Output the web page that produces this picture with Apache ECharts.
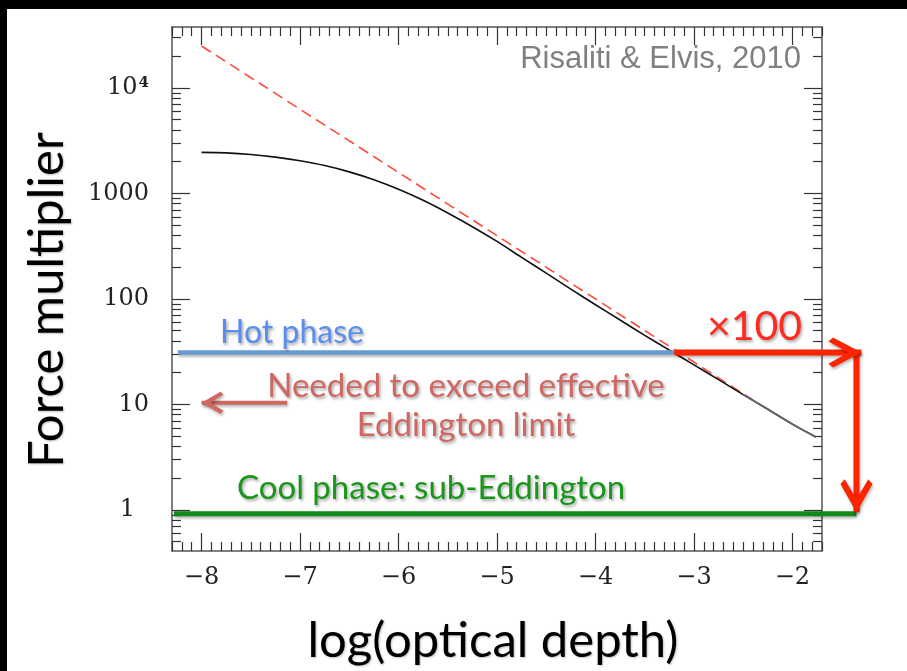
<!DOCTYPE html>
<html><head><meta charset="utf-8">
<script src="https://cdn.jsdelivr.net/npm/echarts@6/dist/echarts.min.js"></script>
<style>html,body{margin:0;padding:0;background:#fff}#c{width:907px;height:671px}</style>
</head><body><div id="c"></div>
<script>
// ---- data ----
const forceX = [-8,-7.75,-7.5,-7.25,-7,-6.75,-6.5,-6.25,-6,-5.75,-5.5,-5.25,-5,-4.75,-4.5,-4.25,-4,-3.75,-3.5,-3.25,-3,-2.75,-2.5,-2.25,-2,-1.76];
const forceM = [2455,2427,2344,2213,2042,1841,1603,1349,1096,861,653,484,351,248,176,124,88.1,63.1,45.2,32.7,23.7,17.2,12.4,9.0,6.5,4.9];
const tailStart = -2.5;               // part of the curve drawn in grey
const asymX = [-8, -2.4];
const asymM = [25000, 11];
const hotLevel = 31;
const hotX = [-8.24, -3.2];
const coolLevel = 0.92;
const coolX = [-8.28, -1.35];
const boostX = [-3.2, -1.30];         // horizontal red arrow (x100)
const boostDownX = -1.35;             // vertical red arrow
const boostDownM = [31, 0.95];
const neededX = [-7.13, -8.0];
const neededLevel = 10.4;
const xMajor = [-8,-7,-6,-5,-4,-3,-2];
const yMajor = [1,10,100,1000,10000];
const xRange = [-8.3, -1.7];
const yRange = [0.408, 37860];
const xRangeWide = [-8.3, -1.0];      // same scale, extended for annotations outside the frame

// minor tick positions
const xMinor = [];
for (let i = -83; i <= -17; i++) if (i % 10 !== 0) xMinor.push(i / 10);
const yMinor = [];
for (let d = -1; d <= 4; d++) for (let k = 2; k <= 9; k++) {
  const v = k * Math.pow(10, d);
  if (v > yRange[0] && v < yRange[1]) yMinor.push(+v.toPrecision(3));
}

const W = 907, gridL = 172, gridR = 85;
const pxPerUnit = (W - gridL - gridR) / (xRange[1] - xRange[0]);
const wideRight = W - gridL - pxPerUnit * (xRangeWide[1] - xRangeWide[0]);

const chev = 'path://M50,0L50.2,0L50,0.2Z M50,100 L100,186 L87,200 L50,140 L13,200 L0,186 Z';
const serifFont = 'DejaVu Serif';
const tickStyle = {color:'#333', width:1.2};
const frameStyle = {color:'#555', width:1.5};

function xAx(pos, major, withLabel) {
  return {
    type:'value', min:xRange[0], max:xRange[1], position:pos, gridIndex:0,
    axisLine:{show:major, lineStyle:frameStyle, onZero:false},
    axisTick:{show:true, inside:true, length: major?18:9, customValues: major?xMajor:xMinor, lineStyle:tickStyle},
    axisLabel: withLabel ? {show:true, customValues:xMajor, margin:15, fontFamily:serifFont, fontSize:24, color:'#222',
      formatter: v => String(Math.round(v)).replace('-', '\u2212')} : {show:false},
    splitLine:{show:false}
  };
}
function yAx(pos, major, withLabel) {
  return {
    type:'log', min:yRange[0], max:yRange[1], position:pos, gridIndex:0,
    axisLine:{show:major, lineStyle:frameStyle, onZero:false},
    axisTick:{show:true, inside:true, length: major?18:9, customValues: major?yMajor:yMinor, lineStyle:tickStyle},
    axisLabel: withLabel ? {show:true, customValues:yMajor, margin:23, fontFamily:serifFont, fontSize:24, color:'#222',
      formatter: v => v > 9000 ? '{a|10}{s|4}' : (v < 2 ? '{a|1}{p|}' : '{a|' + Math.round(v) + '}'),
      rich:{
        a:{fontFamily:serifFont, fontSize:24, color:'#222'},
        s:{fontFamily:serifFont, fontSize:15, fontWeight:'bold', color:'#222', verticalAlign:'top', padding:[0,0,0,1]},
        p:{width:14}
      }} : {show:false},
    splitLine:{show:false}
  };
}

const forcePts = forceX.map((x,i)=>[x, forceM[i]]);
const tailPts = forcePts.filter(p => p[0] >= tailStart);
const shadow = {shadowColor:'rgba(0,0,0,0.3)', shadowBlur:3, shadowOffsetX:1, shadowOffsetY:2};
const txtShadow = {textShadowColor:'rgba(0,0,0,0.35)', textShadowBlur:3, textShadowOffsetX:1.5, textShadowOffsetY:2};
const sans = 'Lato';

const option = {
  animation:false,
  backgroundColor:'#fff',
  grid:[
    {left:gridL, right:gridR, top:27, bottom:120},
    {left:gridL, right:wideRight, top:27, bottom:120}
  ],
  xAxis:[xAx('bottom',true,true), xAx('top',true,false), xAx('bottom',false,false), xAx('top',false,false),
         {type:'value', gridIndex:1, min:xRangeWide[0], max:xRangeWide[1], show:false}],
  yAxis:[yAx('left',true,true), yAx('right',true,false), yAx('left',false,false), yAx('right',false,false),
         {type:'log', gridIndex:1, min:yRange[0], max:yRange[1], show:false}],
  series:[
    {type:'line', name:'asymptote', data:asymX.map((x,i)=>[x,asymM[i]]), showSymbol:false, symbol:'none', z:3,
     lineStyle:{color:'#ff4b3a', width:1.6, type:[11,6]}},
    {type:'line', name:'force', data:forcePts, showSymbol:false, symbol:'none', smooth:0.3, z:4,
     lineStyle:{color:'#111', width:1.6}},
    {type:'line', name:'forceTail', data:tailPts, showSymbol:false, symbol:'none', smooth:0.3, z:5,
     lineStyle:{color:'#666', width:1.8}},
    {type:'line', name:'hot', data:hotX.map(x=>[x,hotLevel]), symbol:'none', z:6,
     lineStyle:Object.assign({color:'#6b9ad0', width:4.5, cap:'butt'}, shadow)},
    {type:'line', name:'cool', xAxisIndex:4, yAxisIndex:4, data:coolX.map(x=>[x,coolLevel]), symbol:'none', z:6,
     lineStyle:Object.assign({color:'#13891a', width:5, cap:'butt'}, shadow)},
    {type:'line', name:'boost', xAxisIndex:4, yAxisIndex:4, z:8, symbol:'none', showSymbol:true,
     data:[[boostX[0],hotLevel], {value:[boostX[1],hotLevel], symbol:chev, symbolSize:[30,66], symbolRotate:-90}],
     itemStyle:Object.assign({color:'#ff2400', borderWidth:0}, shadow),
     lineStyle:Object.assign({color:'#ff2400', width:6, cap:'butt'}, shadow)},
    {type:'line', name:'boostDown', xAxisIndex:4, yAxisIndex:4, z:8, symbol:'none', showSymbol:true,
     data:[[boostDownX,boostDownM[0]], {value:[boostDownX,boostDownM[1]], symbol:chev, symbolSize:[32,66], symbolRotate:180}],
     itemStyle:Object.assign({color:'#ff2400', borderWidth:0}, shadow),
     lineStyle:Object.assign({color:'#ff2400', width:6, cap:'butt'}, shadow)},
    {type:'line', name:'needed', clip:false, z:8, symbol:'none', showSymbol:true,
     data:[[neededX[0],neededLevel], {value:[neededX[1],neededLevel], symbol:chev, symbolSize:[22,44], symbolRotate:90}],
     itemStyle:Object.assign({color:'#cf6762', borderWidth:0}, shadow),
     lineStyle:Object.assign({color:'#cf6762', width:4, cap:'butt'}, shadow)}
  ],
  graphic:[
    {type:'rect', shape:{x:0,y:0,width:907,height:9}, style:{fill:'#000'}, z:100},
    {type:'rect', shape:{x:0,y:0,width:7,height:671}, style:{fill:'#000'}, z:100},
    {type:'text', x:801, y:59, z:50, style:{text:'Risaliti & Elvis, 2010', font:'31px "Liberation Sans"', fill:'#808080', align:'right', verticalAlign:'middle'}},
    {type:'text', x:47, y:300, rotation:Math.PI/2, z:50, style:{text:'Force multiplier', font:'49px '+sans, fill:'#000', align:'center', verticalAlign:'middle', textShadowColor:'rgba(0,0,0,0.25)', textShadowBlur:2, textShadowOffsetX:1, textShadowOffsetY:1}},
    {type:'text', x:493, y:641, z:50, style:{text:'log(optical depth)', font:'49px '+sans, fill:'#000', align:'center', verticalAlign:'middle', textShadowColor:'rgba(0,0,0,0.25)', textShadowBlur:2, textShadowOffsetX:1, textShadowOffsetY:1}},
    {type:'text', x:220, y:333, z:50, style:Object.assign({text:'Hot phase', font:'32px '+sans, fill:'#5a8ff0', align:'left', verticalAlign:'middle'}, txtShadow)},
    {type:'text', x:466, y:386, z:50, style:Object.assign({text:'Needed to exceed effective', font:'33px '+sans, fill:'#cf6762', align:'center', verticalAlign:'middle'}, txtShadow)},
    {type:'text', x:466, y:425, z:50, style:Object.assign({text:'Eddington limit', font:'33px '+sans, fill:'#cf6762', align:'center', verticalAlign:'middle'}, txtShadow)},
    {type:'text', x:237, y:488, z:50, style:Object.assign({text:'Cool phase: sub-Eddington', font:'33px '+sans, fill:'#1a961a', align:'left', verticalAlign:'middle'}, txtShadow)},
    {type:'text', x:707, y:327, z:50, style:Object.assign({text:'\u00d7100', font:'41px '+sans, fill:'#ff2a20', align:'left', verticalAlign:'middle'}, txtShadow)}
  ]
};
const chart = echarts.init(document.getElementById('c'), null, {renderer:'canvas'});
chart.setOption(option);
</script></body></html>
